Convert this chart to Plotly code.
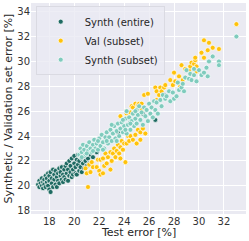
import plotly.graph_objects as go

# ---- data ----
synth_entire = [
    (17.1, 20.1), (17.2, 20.4), (17.2, 19.9), (17.3, 20.2), (17.4, 20.6), (17.4, 20.0),
    (17.5, 20.3), (17.5, 19.8), (17.6, 20.5), (17.6, 20.1), (17.7, 20.8), (17.7, 19.9),
    (17.8, 20.3), (17.8, 20.6), (17.9, 21.0), (17.9, 20.0), (18.0, 20.4), (18.0, 19.7),
    (18.0, 20.8), (18.1, 19.5), (18.1, 21.1), (18.2, 20.2), (18.2, 20.6), (18.3, 21.3),
    (18.3, 19.9), (18.4, 20.5), (18.4, 20.9), (18.5, 20.1), (18.5, 21.2), (18.6, 20.7),
    (18.6, 19.9), (18.7, 21.0), (18.7, 20.4), (18.8, 21.4), (18.8, 20.2), (18.9, 20.8),
    (18.9, 21.1), (19.0, 20.5), (19.0, 21.5), (19.1, 20.9), (19.1, 20.3), (19.2, 21.3),
    (19.2, 20.7), (19.3, 21.6), (19.3, 20.5), (19.4, 21.0), (19.4, 21.8), (19.5, 20.4),
    (19.5, 21.3), (19.6, 20.8), (19.6, 22.0), (19.7, 21.1), (19.7, 21.6), (19.8, 20.7),
    (19.8, 22.2), (19.9, 21.3), (19.9, 20.9), (20.0, 21.8), (20.0, 22.4), (20.1, 21.0),
    (20.1, 21.5), (20.2, 22.1), (20.2, 20.9), (20.3, 21.7), (20.3, 22.5), (20.4, 21.2),
    (20.4, 22.0), (20.5, 21.5), (20.5, 22.6), (20.6, 21.1), (20.6, 22.2), (20.7, 21.8),
    (20.8, 22.4), (20.8, 21.4), (20.9, 22.0), (21.0, 21.6), (21.0, 22.7), (21.1, 22.2),
    (21.2, 21.8), (21.3, 22.5), (21.4, 22.9), (21.5, 22.3), (21.6, 23.0), (21.8, 22.7),
    (22.5, 23.6), (23.5, 24.3), (24.5, 25.1), (25.5, 25.8), (26.5, 25.3), (27.2, 27.3),
]
val_subset = [
    (21.1, 19.9), (20.9, 21.4), (21.0, 21.0), (21.2, 21.7), (21.3, 21.1), (21.4, 21.9),
    (21.5, 21.5), (21.8, 21.5), (21.9, 22.1), (22.0, 21.2), (22.1, 20.9), (22.1, 22.1),
    (22.3, 21.0), (22.3, 22.2), (22.4, 21.6), (22.5, 22.6), (22.6, 21.8), (22.7, 22.3),
    (22.9, 21.3), (22.9, 22.7), (23.0, 22.0), (23.1, 22.6), (23.2, 23.0), (23.3, 22.3),
    (23.4, 22.8), (23.5, 23.3), (23.6, 22.6), (23.7, 22.2), (23.7, 23.1), (23.8, 23.6),
    (23.9, 22.9), (24.0, 23.4), (24.1, 21.9), (24.2, 23.4), (24.3, 24.0), (24.4, 23.6),
    (24.5, 24.0), (24.7, 23.7), (24.9, 24.1), (25.0, 23.4), (25.1, 24.5), (25.3, 23.7),
    (25.3, 24.3), (25.5, 24.6), (25.7, 24.2),
    (23.7, 25.6), (24.2, 25.8), (24.2, 26.0), (24.3, 25.5), (24.5, 25.9), (24.6, 26.4),
    (24.7, 26.3), (24.9, 26.6), (25.1, 26.5), (25.2, 26.6), (25.1, 26.2), (25.4, 26.6),
    (25.4, 26.1), (25.6, 27.3), (25.9, 27.4), (26.5, 27.9), (26.6, 27.6), (26.6, 26.9),
    (26.8, 27.3), (26.9, 27.9), (27.0, 27.6), (27.2, 27.9), (27.3, 28.1), (27.7, 28.5),
    (27.9, 28.1), (28.0, 29.1), (28.1, 28.4), (28.4, 28.8), (28.5, 28.0), (28.6, 29.7),
    (28.7, 28.5), (28.9, 29.4), (28.9, 28.7), (29.2, 29.3), (29.3, 29.6), (29.4, 29.9),
    (29.6, 29.8), (29.7, 30.1), (29.7, 30.3), (29.8, 29.6), (29.8, 29.2), (30.2, 30.7),
    (30.4, 31.7), (30.4, 30.3), (30.7, 30.9), (30.8, 31.5), (31.1, 31.1), (31.6, 31.0),
    (33.0, 33.0),
]
synth_subset = [
    (20.4, 22.5), (20.5, 23.0), (20.6, 22.7), (20.7, 23.3), (20.8, 22.9), (20.9, 22.5),
    (21.0, 23.2), (21.1, 22.8), (21.2, 23.5), (21.3, 23.0), (21.4, 22.7), (21.5, 23.3),
    (21.6, 23.7), (21.7, 23.0), (21.8, 23.4), (21.9, 22.9), (22.0, 23.8), (22.1, 23.2),
    (22.2, 24.1), (22.3, 23.5), (22.4, 23.0), (22.5, 23.9), (22.6, 24.3), (22.7, 23.4),
    (22.8, 23.9), (22.9, 24.5), (23.0, 23.6), (23.1, 24.2), (23.2, 24.8), (23.3, 23.8),
    (23.4, 24.4), (23.5, 25.0), (23.6, 24.0), (23.7, 24.6), (23.8, 25.1), (23.9, 24.3),
    (24.0, 24.8), (24.1, 25.4), (24.2, 24.2), (24.2, 26.0), (24.3, 24.9), (24.4, 25.5),
    (24.5, 24.5), (24.6, 25.2), (24.7, 25.8), (24.8, 24.8), (24.9, 25.4), (25.0, 26.1),
    (25.0, 25.0), (25.1, 25.7), (25.2, 26.4), (25.3, 25.3), (25.4, 25.9), (25.5, 24.9),
    (25.6, 26.3), (25.7, 25.6), (25.8, 26.1), (25.9, 25.2), (26.0, 26.6), (26.1, 25.8),
    (26.2, 26.3), (26.3, 25.5), (26.4, 26.8), (26.5, 26.1), (26.6, 26.7), (26.7, 25.8),
    (26.9, 26.9), (27.0, 26.4), (27.1, 27.3), (27.3, 27.0), (27.4, 27.2), (27.6, 27.6),
    (27.7, 26.8), (27.9, 27.5), (28.0, 27.0), (28.2, 27.2), (28.3, 28.3), (28.4, 27.7),
    (28.6, 27.9), (28.7, 28.2), (28.8, 27.6), (28.9, 28.7), (29.0, 29.3), (29.2, 28.6),
    (29.3, 29.0), (29.4, 28.5), (29.6, 29.4), (29.6, 28.9), (29.8, 28.4), (30.0, 29.3),
    (30.2, 28.9), (30.4, 29.1), (30.6, 29.5), (30.7, 28.8), (30.8, 30.0), (31.1, 30.4),
    (31.6, 30.0), (31.6, 29.7), (33.0, 32.0),
    (20.6, 22.3), (21.0, 22.6), (21.5, 22.8), (21.9, 23.6), (22.3, 22.9), (22.6, 23.6),
    (23.0, 24.9), (23.4, 23.6), (23.9, 25.3), (24.1, 24.5), (24.5, 25.0), (24.9, 26.0),
]
tick_x = [18, 20, 22, 24, 26, 28, 30, 32]
tick_y = [18, 20, 22, 24, 26, 28, 30, 32, 34]
x_title = "Test error [%]"
y_title = "Synthetic / Validation set error [%]"

series = [
    ("Synth (entire)", synth_entire, "#1e6a62"),
    ("Val (subset)", val_subset, "#ffc20a"),
    ("Synth (subset)", synth_subset, "#7fcbbd"),
]

fig = go.Figure()
for name, pts, col in series:
    fig.add_trace(go.Scatter(
        x=[p[0] for p in pts], y=[p[1] for p in pts], mode="markers", name=name,
        marker=dict(size=5, color=col, line=dict(color="white", width=0.7)),
    ))

font = "DejaVu Sans"
fig.update_layout(
    width=249, height=241,
    margin=dict(l=31, r=3, t=3, b=27, autoexpand=False),
    paper_bgcolor="white", plot_bgcolor="#EAEAF2",
    font=dict(family=font, size=10, color="#333333"),
    showlegend=True, hovermode=False,
    legend=dict(
        x=0.022, y=0.985, xanchor="left", yanchor="top", itemwidth=38,
        bgcolor="rgba(234,234,242,0.8)", bordercolor="#dadae2", borderwidth=1,
        font=dict(size=10, color="#262626"),
    ),
    xaxis=dict(
        range=[16.53, 33.77], tickvals=tick_x, showgrid=True, gridcolor="white",
        gridwidth=1, zeroline=False, showline=False, ticks="", automargin=False,
        tickfont=dict(size=10, color="#333333"),
    ),
    yaxis=dict(
        range=[17.73, 34.7], tickvals=tick_y, showgrid=True, gridcolor="white",
        gridwidth=1, zeroline=False, showline=False, ticks="", automargin=False,
        tickfont=dict(size=10, color="#333333"),
    ),
    annotations=[
        dict(text=x_title, xref="paper", yref="paper", x=0.5, y=0, yshift=-18,
             xanchor="center", yanchor="middle", showarrow=False,
             font=dict(size=11, color="#262626")),
        dict(text=y_title, xref="paper", yref="paper", x=0, y=0.5, xshift=-23,
             xanchor="center", yanchor="middle", textangle=-90, showarrow=False,
             font=dict(size=11, color="#262626")),
    ],
)
fig.write_html("out.html", config={"displayModeBar": False},
               post_script="document.body.style.margin='0';")
